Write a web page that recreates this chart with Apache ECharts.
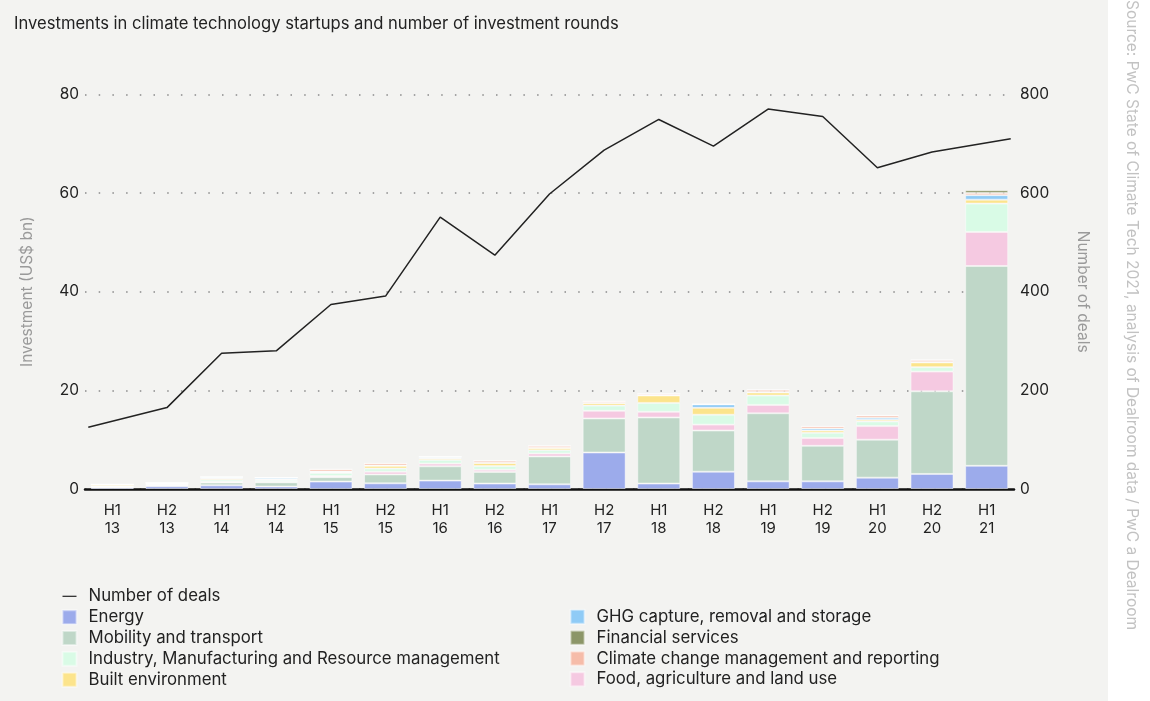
<!DOCTYPE html>
<html>
<head>
<meta charset="utf-8">
<script src="https://cdn.jsdelivr.net/npm/echarts@6/dist/echarts.min.js"></script>
<style>
  html, body { margin: 0; padding: 0; background: #ffffff; }
  #chart { width: 1150px; height: 701px; background: linear-gradient(to right, #f3f3f1 0, #f3f3f1 1108px, #ffffff 1108px); }
</style>
</head>
<body>
<div id="chart"></div>
<script>
const periods = ['H1\n13','H2\n13','H1\n14','H2\n14','H1\n15','H2\n15','H1\n16','H2\n16','H1\n17','H2\n17','H1\n18','H2\n18','H1\n19','H2\n19','H1\n20','H2\n20','H1\n21'];

const energy    = [0.3, 0.55, 0.75, 0.5, 1.5, 1.15, 1.7, 1.1, 0.95, 7.4, 1.1, 3.5, 1.55, 1.55, 2.3, 3.05, 4.7];
const mobility  = [0.15, 0.2, 0.55, 0.85, 0.9, 1.8, 2.9, 2.35, 5.65, 6.9, 13.4, 8.35, 13.8, 7.2, 7.7, 16.75, 40.5];
const food      = [0.05, 0.05, 0.15, 0.1, 0.25, 0.55, 0.55, 0.45, 0.6, 1.55, 1.15, 1.2, 1.7, 1.6, 2.75, 4.0, 6.9];
const industry  = [0.1, 0.15, 0.45, 0.35, 0.6, 0.65, 0.75, 0.75, 0.65, 1.05, 1.8, 2.0, 1.9, 1.05, 0.95, 0.9, 5.75];
const built     = [0.3, 0.2, 0.25, 0.2, 0.2, 0.55, 0.3, 0.6, 0.45, 0.5, 1.5, 1.4, 0.6, 0.45, 0.35, 0.95, 0.8];
const ghg       = [0, 0.05, 0.25, 0.3, 0.1, 0.05, 0.25, 0.05, 0.05, 0.1, 0.05, 0.7, 0.1, 0.4, 0.4, 0.1, 0.9];
const climate   = [0.05, 0.05, 0.05, 0.02, 0.45, 0.45, 0.1, 0.45, 0.4, 0.3, 0.3, 0.05, 0.45, 0.45, 0.45, 0.4, 0.45];
const financial = [0, 0, 0, 0, 0, 0, 0, 0, 0, 0, 0, 0, 0.05, 0, 0.05, 0.05, 0.55];

const deals = [125, 165, 275, 280, 374, 391, 551, 474, 598, 687, 749, 695, 770, 755, 651, 683, 710];

const leftTicks = [0, 20, 40, 60, 80];
const rightTicks = [0, 200, 400, 600, 800];

const FONT = 'Inter';
const barSeriesDefs = [
  { name: 'Energy', data: energy, color: '#9cabeb' },
  { name: 'Mobility and transport', data: mobility, color: '#bfd7c8' },
  { name: 'Food, agriculture and land use', data: food, color: '#f5c9e1' },
  { name: 'Industry, Manufacturing and Resource management', data: industry, color: '#d9fbe6' },
  { name: 'Built environment', data: built, color: '#fce48c' },
  { name: 'GHG capture, removal and storage', data: ghg, color: '#8fcbf6' },
  { name: 'Climate change management and reporting', data: climate, color: '#f6bca9' },
  { name: 'Financial services', data: financial, color: '#8c9668' }
];

const n = periods.length;
const lineData = deals.map((v, i) => [i === 0 ? -0.44 : (i === n - 1 ? n - 1 + 0.44 : i), v]);

const chart = echarts.init(document.getElementById('chart'), null, { renderer: 'canvas' });

const series = barSeriesDefs.map(d => ({
  name: d.name,
  type: 'bar',
  stack: 'inv',
  xAxisIndex: 0,
  yAxisIndex: 0,
  barWidth: 43,
  data: d.data,
  itemStyle: { color: d.color, borderColor: 'rgba(255,255,255,0.45)', borderWidth: 1 },
  emphasis: { disabled: true }
}));
series.push({
  name: 'Number of deals',
  type: 'line',
  xAxisIndex: 1,
  yAxisIndex: 1,
  data: lineData,
  symbol: 'none',
  lineStyle: { color: '#222222', width: 1.5 },
  itemStyle: { color: '#222222' },
  z: 5
});

const legendText = { fontFamily: FONT, fontSize: 16.8, color: '#222', padding: [0, 0, 0, 7] };
const lineIcon = 'path://M0,0M14,14M0,6.4L14,6.4L14,7.6L0,7.6Z';

chart.setOption({
  backgroundColor: 'transparent',
  animation: false,
  textStyle: { fontFamily: FONT },
  title: {
    text: 'Investments in climate technology startups and number of investment rounds',
    left: 9, top: 10,
    textStyle: { fontFamily: FONT, fontSize: 16.6, fontWeight: 'normal', color: '#222' }
  },
  legend: [
    {
      orient: 'vertical', left: 61.5, top: 587.8, height: 113, padding: 0,
      itemWidth: 14, itemHeight: 14, itemGap: 3.85,
      selectedMode: false, textStyle: legendText,
      data: [
        { name: 'Number of deals', icon: lineIcon },
        { name: 'Energy', icon: 'rect' },
        { name: 'Mobility and transport', icon: 'rect' },
        { name: 'Industry, Manufacturing and Resource management', icon: 'rect' },
        { name: 'Built environment', icon: 'rect' }
      ]
    },
    {
      orient: 'vertical', left: 569.5, top: 608.3, height: 92, padding: 0,
      itemWidth: 14, itemHeight: 14, itemGap: 3.85,
      selectedMode: false, textStyle: legendText,
      data: [
        { name: 'GHG capture, removal and storage', icon: 'rect' },
        { name: 'Financial services', icon: 'rect' },
        { name: 'Climate change management and reporting', icon: 'rect' },
        { name: 'Food, agriculture and land use', icon: 'rect' }
      ]
    }
  ],
  grid: { left: 85, right: 136, top: 94.3, bottom: 212, containLabel: false },
  xAxis: [
    {
      type: 'category', data: periods, gridIndex: 0,
      axisLine: { show: true, lineStyle: { color: '#111', width: 2.5 } },
      axisTick: { show: false },
      axisLabel: { fontFamily: FONT, fontSize: 15, color: '#222', lineHeight: 18, margin: 12 },
      splitLine: { show: false }
    },
    {
      type: 'value', gridIndex: 0, min: -0.5, max: n - 0.5, show: false
    }
  ],
  yAxis: [
    {
      type: 'value', min: leftTicks[0], max: leftTicks[leftTicks.length - 1], interval: 20,
      position: 'left',
      name: 'Investment (US$ bn)', nameLocation: 'middle', nameGap: 50,
      nameTextStyle: { fontFamily: FONT, fontSize: 15.5, color: '#9a9a9a' },
      axisLine: { show: false }, axisTick: { show: false },
      axisLabel: { fontFamily: FONT, fontSize: 15.5, color: '#222', margin: 6 },
      splitLine: { show: true, lineStyle: { color: '#8a8a8a', width: 1.5, type: [1.5, 12.2] } }
    },
    {
      type: 'value', min: rightTicks[0], max: rightTicks[rightTicks.length - 1], interval: 200,
      position: 'right',
      name: 'Number of deals', nameLocation: 'middle', nameGap: 61, nameRotate: -90,
      nameTextStyle: { fontFamily: FONT, fontSize: 15.5, color: '#9a9a9a' },
      axisLine: { show: false }, axisTick: { show: false },
      axisLabel: { fontFamily: FONT, fontSize: 15.5, color: '#222', margin: 6 },
      splitLine: { show: false }
    }
  ],
  graphic: [
    {
      type: 'text', x: 1132, y: 0, rotation: -Math.PI / 2,
      style: {
        text: 'Source: PwC State of Climate Tech 2021, analysis of Dealroom data / PwC a Dealroom',
        fontFamily: FONT, fontSize: 15.5, fill: '#c2c2c2', textAlign: 'left', textVerticalAlign: 'middle'
      }
    }
  ],
  series: series
});
</script>
</body>
</html>
